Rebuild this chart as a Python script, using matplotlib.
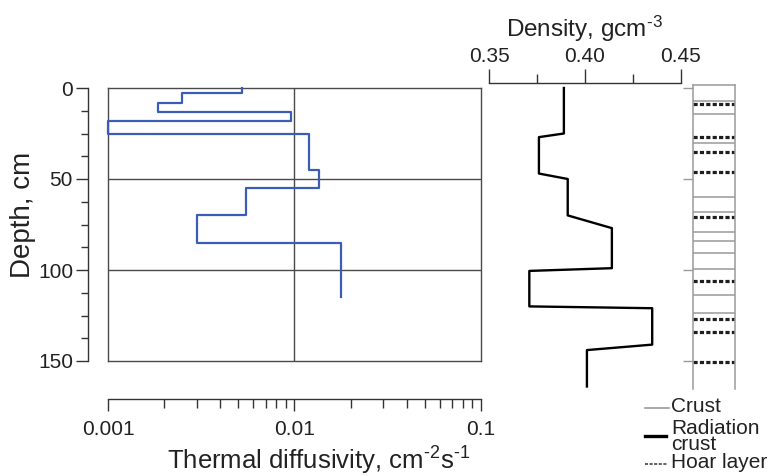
import matplotlib
matplotlib.use('Agg')
import matplotlib.pyplot as plt
from matplotlib.lines import Line2D
from matplotlib.ticker import FixedLocator, MultipleLocator, LogLocator, NullFormatter, FixedFormatter

plt.rcParams['font.family'] = ['Liberation Sans', 'DejaVu Sans']
plt.rcParams['mathtext.fontset'] = 'custom'
plt.rcParams['mathtext.rm'] = 'Liberation Sans'
plt.rcParams['mathtext.it'] = 'Liberation Sans:italic'
plt.rcParams['mathtext.bf'] = 'Liberation Sans:bold'

# ---------------- data ----------------
diff_layer_depths = [0, 3, 8, 13, 18, 25, 45, 55, 70, 85, 115]
diff_values = [0.0052, 0.0025, 0.00186, 0.0096, 0.001, 0.0119, 0.0136, 0.0055, 0.0030, 0.0178]

dens_depths = [0, 25, 27, 47, 50, 70, 77, 99, 100.5, 120, 121, 141, 144, 164]
dens_values = [0.389, 0.389, 0.376, 0.376, 0.391, 0.391, 0.414, 0.414,
               0.371, 0.371, 0.435, 0.435, 0.401, 0.401]

crust_depths = [7.0, 14.5, 30.4, 59.7, 68.0, 79.3, 84.1, 90.5, 99.6, 113.7, 123.5]
hoar_depths = [9.0, 27.1, 35.2, 46.3, 70.7, 106.0, 126.8, 133.9, 150.4]

depth_ticks = [0, 50, 100, 150]
diff_ticks = [0.001, 0.01, 0.1]
diff_tick_labels = ['0.001', '0.01', '0.1']
dens_ticks = [0.35, 0.40, 0.45]
dens_tick_labels = ['0.35', '0.40', '0.45']
legend_labels = ['Crust', 'Radiation\ncrust', 'Hoar layer']

# ---------------- layout helpers ----------------
W, H = 769, 476
fig = plt.figure(figsize=(W / 100, H / 100), dpi=100)
fig.patch.set_facecolor('white')


def rect(x0, y0, x1, y1):
    return [x0 / W, 1 - y1 / H, (x1 - x0) / W, (y1 - y0) / H]


def fx(x):
    return x / W


def fy(y):
    return 1 - y / H


PX = 0.72  # points per pixel at 100 dpi
TXT = '#222222'

# ---------------- left panel: thermal diffusivity ----------------
ax1 = fig.add_axes(rect(108, 88, 481, 361))
ax1.set_xscale('log')
ax1.set_xlim(diff_ticks[0], diff_ticks[-1])
ax1.set_ylim(depth_ticks[-1], depth_ticks[0])
for s in ax1.spines.values():
    s.set_color('#4a4a4a')
    s.set_linewidth(1.0)
ax1.tick_params(which='both', left=False, bottom=False, labelleft=False, labelbottom=False)
ax1.xaxis.set_minor_locator(FixedLocator([]))
for d in depth_ticks[1:-1]:
    ax1.axhline(d, color='#4a4a4a', lw=1.0, zorder=1)
for v in diff_ticks[1:-1]:
    ax1.axvline(v, color='#4a4a4a', lw=1.0, zorder=1)

xs, ys = [], []
for v, d0, d1 in zip(diff_values, diff_layer_depths[:-1], diff_layer_depths[1:]):
    xs += [v, v]
    ys += [d0, d1]
ax1.plot(xs, ys, color='#3b5db3', lw=1.6, clip_on=False, zorder=3)

# detached axes (depth on left, diffusivity on bottom)
axs = fig.add_axes(rect(108, 88, 481, 361), zorder=-1)
axs.patch.set_visible(False)
axs.set_xscale('log')
axs.set_xlim(diff_ticks[0], diff_ticks[-1])
axs.set_ylim(depth_ticks[-1], depth_ticks[0])
axs.spines['top'].set_visible(False)
axs.spines['right'].set_visible(False)
axs.spines['left'].set_position(('outward', 20 * PX))
axs.spines['bottom'].set_position(('outward', 38 * PX))
for s in ('left', 'bottom'):
    axs.spines[s].set_color('#333333')
    axs.spines[s].set_linewidth(1.0)
axs.yaxis.set_major_locator(FixedLocator(depth_ticks))
axs.yaxis.set_minor_locator(MultipleLocator(12.5))
axs.xaxis.set_major_locator(FixedLocator(diff_ticks))
axs.xaxis.set_major_formatter(FixedFormatter(diff_tick_labels))
axs.xaxis.set_minor_locator(LogLocator(base=10, subs=range(2, 10)))
axs.xaxis.set_minor_formatter(NullFormatter())
axs.tick_params(axis='y', which='major', length=12 * PX, width=1.0, color='#333333',
                labelsize=15, pad=3 * PX, labelcolor=TXT)
axs.tick_params(axis='y', which='minor', length=7 * PX, width=1.0, color='#333333')
axs.tick_params(axis='x', which='major', length=12 * PX, width=1.0, color='#333333',
                labelsize=15, pad=9 * PX, labelcolor=TXT)
axs.tick_params(axis='x', which='minor', length=9 * PX, width=1.0, color='#333333')

fig.text(fx(23), fy(214.5), 'Depth, cm', rotation=90, ha='center', va='center',
         fontsize=20, color=TXT)
fig.text(fx(318.5), fy(470), r'Thermal diffusivity, cm$^{\text{-}2}$s$^{\text{-}1}$',
         ha='center', va='baseline', fontsize=18.5, color=TXT)

# ---------------- middle panel: density ----------------
ax2 = fig.add_axes(rect(489, 83.3, 681, 361))
ax2.patch.set_visible(False)
ax2.set_xlim(dens_ticks[0], dens_ticks[-1])
ax2.set_ylim(150, -(88 - 83.3) / 1.82)
for s in ('left', 'right', 'bottom'):
    ax2.spines[s].set_visible(False)
ax2.spines['top'].set_color('#333333')
ax2.spines['top'].set_linewidth(1.0)
ax2.xaxis.tick_top()
ax2.xaxis.set_major_locator(FixedLocator(dens_ticks))
ax2.xaxis.set_major_formatter(FixedFormatter(dens_tick_labels))
ax2.xaxis.set_minor_locator(MultipleLocator(0.025))
ax2.tick_params(axis='x', which='major', length=14 * PX, width=1.0, color='#333333',
                labelsize=15, pad=3 * PX, labelcolor=TXT)
ax2.tick_params(axis='x', which='minor', length=9 * PX, width=1.0, color='#333333')
ax2.set_yticks([])
ax2.plot(dens_values, dens_depths, color='black', lw=1.7, clip_on=False)
fig.text(fx(584), fy(37.3), r'Density, gcm$^{\text{-}3}$', ha='center', va='baseline',
         fontsize=17.5, color=TXT)

# ---------------- right panel: stratigraphy ----------------
ax3 = fig.add_axes(rect(692.7, 85, 735, 389))
ax3.patch.set_visible(False)
ax3.set_xlim(0, 1)
ax3.set_ylim(165.4, -1.6)
ax3.spines['bottom'].set_visible(False)
for s in ('left', 'right', 'top'):
    ax3.spines[s].set_color('#9a9a9a')
    ax3.spines[s].set_linewidth(1.1)
ax3.set_xticks([])
ax3.yaxis.set_major_locator(FixedLocator(depth_ticks))
ax3.tick_params(axis='y', length=10 * PX, width=1.0, color='#9a9a9a', labelleft=False)
for d in crust_depths:
    ax3.axhline(d, color='#9a9a9a', lw=1.1)
for d in hoar_depths:
    ax3.axhline(d, color='#1e1e1e', lw=2.3, linestyle=(0, (1.3, 0.7)))

# ---------------- legend ----------------
fig.add_artist(Line2D([fx(645), fx(669)], [fy(407.7), fy(407.7)], color='#9a9a9a', lw=1.2))
fig.add_artist(Line2D([fx(645), fx(666)], [fy(436), fy(436)], color='black', lw=2.4))
fig.add_artist(Line2D([fx(645), fx(668)], [fy(464.3), fy(464.3)], color='#333333', lw=1.1,
                      linestyle=(0, (2, 1))))
fig.text(fx(671), fy(406.7), legend_labels[0], ha='left', va='center', fontsize=15,
         color=TXT)
fig.text(fx(671), fy(436.3), legend_labels[1], ha='left', va='center', fontsize=15,
         color=TXT, linespacing=0.82)
fig.text(fx(671), fy(463), legend_labels[2], ha='left', va='center', fontsize=15,
         color=TXT)

fig.savefig('out.png', dpi=100, facecolor='white')
